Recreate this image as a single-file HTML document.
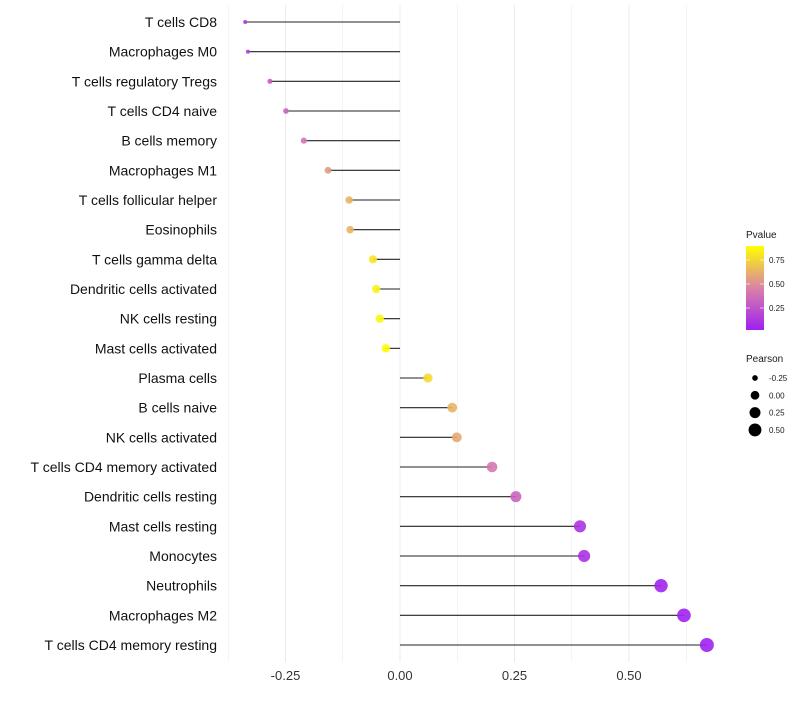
<!DOCTYPE html>
<html><head><meta charset="utf-8"><style>
body{margin:0;background:#fff;font-family:"Liberation Sans",sans-serif}
</style></head><body>
<svg id="chart" width="800" height="700">
<defs><linearGradient id="pg" x1="0" y1="1" x2="0" y2="0">
<stop offset="0" stop-color="#a020f0"/><stop offset="0.5" stop-color="#da82a8"/><stop offset="1" stop-color="#ffff00"/></linearGradient></defs>
</svg>
<script>
const categories=["T cells CD8","Macrophages M0","T cells regulatory  Tregs","T cells CD4 naive","B cells memory","Macrophages M1","T cells follicular helper","Eosinophils","T cells gamma delta","Dendritic cells activated","NK cells resting","Mast cells activated","Plasma cells","B cells naive","NK cells activated","T cells CD4 memory activated","Dendritic cells resting","Mast cells resting","Monocytes","Neutrophils","Macrophages M2","T cells CD4 memory resting"];
const pearson=[-0.338,-0.332,-0.284,-0.249,-0.21,-0.157,-0.111,-0.109,-0.059,-0.052,-0.044,-0.031,0.061,0.114,0.124,0.201,0.253,0.393,0.402,0.57,0.62,0.67];
const pvalue=[0.12,0.15,0.3,0.35,0.45,0.6,0.7,0.7,0.9,0.95,0.97,0.99,0.85,0.7,0.65,0.45,0.35,0.1,0.09,0.02,0.01,0.005];
const xTicks=[-0.25,0,0.25,0.5];
const xTickLabels=["-0.25","0.00","0.25","0.50"];
const sizeLegend=[-0.25,0,0.25,0.5];
const sizeLegendLabels=["-0.25","0.00","0.25","0.50"];
const pLegend=[0.25,0.5,0.75];

const svg=document.getElementById('chart');const NS="http://www.w3.org/2000/svg";
function mk(t,a,p){const e=document.createElementNS(NS,t);for(const k in a)e.setAttribute(k,a[k]);(p||svg).appendChild(e);return e;}
const xs=v=>400+v*458;
const ys=i=>22+i*(623/21);
const rs=v=>Math.sqrt(Math.max(1,19.1+44.6*v));
function col(p){const s=[[160,32,240],[218,130,168],[255,255,0]];let a,b,t;if(p<0.5){a=s[0];b=s[1];t=p/0.5}else{a=s[1];b=s[2];t=(p-0.5)/0.5}
return `rgb(${a.map((c,i)=>Math.round(c+(b[i]-c)*t)).join(',')})`;}
[-0.375,-0.25,-0.125,0,0.125,0.25,0.375,0.5,0.625].forEach(v=>{
const g=mk('line',{x1:xs(v),x2:xs(v),y1:5,y2:662,stroke:'#ebebeb','stroke-width':v*8%2==0?1:0.6});

});
xTicks.forEach((v,i)=>{const t=mk('text',{x:xs(v),y:680,'text-anchor':'middle','font-size':13,fill:'#333'});t.textContent=xTickLabels[i];

});
categories.forEach((c,i)=>{
const y=ys(i);
const l=mk('text',{x:217,y:y+5,'text-anchor':'end','font-size':14,fill:'#111'});l.textContent=c;


const s=mk('line',{x1:xs(0),x2:xs(pearson[i]),y1:y,y2:y,stroke:'#222','stroke-width':1.1});


const d=mk('circle',{cx:xs(pearson[i]),cy:y,r:rs(pearson[i]),fill:col(pvalue[i]),'fill-opacity':0.9});


});
const pt=mk('text',{x:746,y:238,'font-size':10,fill:'#1a1a1a'});pt.textContent='Pvalue';


const bar=mk('rect',{x:746,y:246,width:18,height:84,fill:'url(#pg)'});


pLegend.forEach(v=>{const y=308-(v-0.25)*96;
mk('line',{x1:746,x2:750,y1:y,y2:y,stroke:'#fff','stroke-opacity':0.6});mk('line',{x1:760,x2:764,y1:y,y2:y,stroke:'#fff','stroke-opacity':0.6});
const t=mk('text',{x:769,y:y+3,'font-size':8,fill:'#1a1a1a'});t.textContent=v.toFixed(2);

});
const st=mk('text',{x:746,y:362,'font-size':10,fill:'#1a1a1a'});st.textContent='Pearson';


sizeLegend.forEach((v,i)=>{const y=378+i*17.3;
const c=mk('circle',{cx:755,cy:y,r:rs(v),fill:'#000'});


const t=mk('text',{x:769,y:y+3,'font-size':8,fill:'#1a1a1a'});t.textContent=sizeLegendLabels[i];

});
</script>
</body></html>
